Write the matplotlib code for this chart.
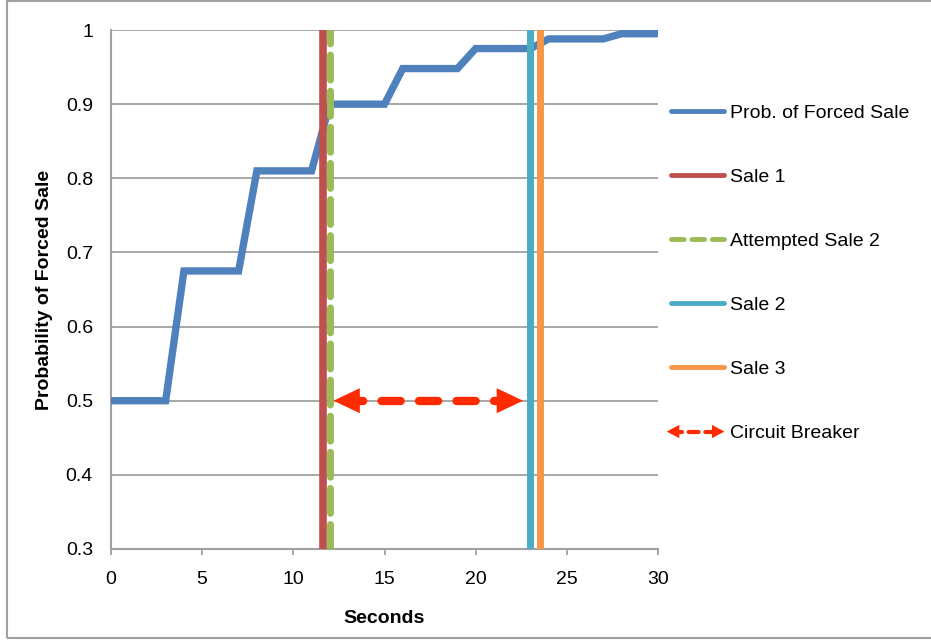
import matplotlib.pyplot as plt
from matplotlib.patches import FancyArrowPatch, Rectangle
from matplotlib.lines import Line2D
from matplotlib.legend_handler import HandlerBase

plt.rcParams['font.family'] = ['Liberation Sans', 'DejaVu Sans']

# probability curve (seconds, prob)
seconds = [0, 3, 4, 7, 8, 11, 12, 15, 16, 19, 20, 23, 24, 27, 28, 30]
prob = [0.5, 0.5, 0.675, 0.675, 0.81, 0.81, 0.9, 0.9, 0.948, 0.948,
        0.975, 0.975, 0.988, 0.988, 0.995, 0.995]

# event times
sale1_t = 11.6
attempt2_t = 12
sale2_t = 23
sale3_t = 23.5

# circuit breaker window
breaker_start = 12.2
breaker_end = 22.6
breaker_level = 0.5

x_ticks = [0, 5, 10, 15, 20, 25, 30]
y_ticks = [0.3, 0.4, 0.5, 0.6, 0.7, 0.8, 0.9, 1.0]
y_labels = ['0.3', '0.4', '0.5', '0.6', '0.7', '0.8', '0.9', '1']

BLUE = '#4f81bd'
RED = '#c0504d'
GREEN = '#9bbb59'
TEAL = '#4bacc6'
ORANGE = '#f79646'
ARROW = '#ff2a00'
GRAY = '#a0a0a0'


class HandlerArrow(HandlerBase):
    # dashed shaft with a solid head at each end
    def create_artists(self, legend, orig_handle, xdescent, ydescent,
                       width, height, fontsize, trans):
        y = height / 2 - ydescent
        x0, x1 = -xdescent - 3, width - xdescent
        shaft = Line2D([x0 + 4, x1 - 4], [y, y], color=ARROW, lw=3,
                       linestyle=(0, (2.4, 1.6)), dash_capstyle='round',
                       transform=trans)
        heads = FancyArrowPatch((x0, y), (x1, y),
                                arrowstyle='<|-|>,head_length=0.6,head_width=0.32',
                                mutation_scale=15, color=ARROW, lw=0,
                                shrinkA=0, shrinkB=0, transform=trans)
        return [shaft, heads]


fig = plt.figure(figsize=(9.31, 6.4), dpi=100)
ax = fig.add_axes([0.1192, 0.1422, 0.5876, 0.8109])

ax.plot(seconds, prob, color=BLUE, lw=5.3, solid_joinstyle='miter', zorder=3)
ax.axvline(sale1_t, color=RED, lw=5.5, zorder=4)
ax.axvline(attempt2_t, color=GREEN, lw=5, linestyle=(0, (3.6, 1.6)),
           dash_capstyle='round', zorder=5)
ax.axvline(sale2_t, color=TEAL, lw=5, zorder=4)
ax.axvline(sale3_t, color=ORANGE, lw=5, zorder=4)

# circuit breaker: dashed shaft plus filled arrow heads
ax.plot([breaker_start + 0.6, breaker_end - 0.6], [breaker_level, breaker_level],
        color=ARROW, lw=6, linestyle=(0, (2.3, 2.2)), dash_capstyle='round', zorder=6)
ax.add_patch(FancyArrowPatch((breaker_start, breaker_level), (breaker_end, breaker_level),
                             arrowstyle='<|-|>,head_length=0.95,head_width=0.45',
                             mutation_scale=20, color=ARROW, lw=0,
                             shrinkA=0, shrinkB=0, zorder=7))

ax.set_xlim(0, 30)
ax.set_ylim(0.3, 1.0)
ax.set_xticks(x_ticks)
ax.set_yticks(y_ticks)
ax.set_yticklabels(y_labels)
ax.tick_params(axis='x', direction='out', length=4, color=GRAY, width=1.3,
               labelsize=14, pad=12)
ax.tick_params(axis='y', length=0, labelsize=14, pad=13)
ax.yaxis.grid(True, color=GRAY, lw=1.3)
ax.set_axisbelow(True)
for side in ['top', 'right']:
    ax.spines[side].set_visible(False)
for side in ['left', 'bottom']:
    ax.spines[side].set_color(GRAY)
    ax.spines[side].set_linewidth(1.5)

ax.set_xlabel('Seconds', fontsize=14, fontweight='bold', labelpad=16)
ax.set_ylabel('Probability of Forced Sale', fontsize=14, fontweight='bold', labelpad=9)

handles = [
    Line2D([], [], color=BLUE, lw=3.5, solid_capstyle='round'),
    Line2D([], [], color=RED, lw=3.5, solid_capstyle='round'),
    Line2D([], [], color=GREEN, lw=3.5, linestyle=(0, (2.6, 1.6)), dash_capstyle='round'),
    Line2D([], [], color=TEAL, lw=3.5, solid_capstyle='round'),
    Line2D([], [], color=ORANGE, lw=3.5, solid_capstyle='round'),
    FancyArrowPatch((0, 0), (1, 0)),
]
labels = ['Prob. of Forced Sale', 'Sale 1', 'Attempted Sale 2', 'Sale 2', 'Sale 3',
          'Circuit Breaker']
fig.legend(handles, labels, loc='upper left', bbox_to_anchor=(0.7207, 0.837),
           frameon=False, fontsize=14, handlelength=2.75, handletextpad=0.28,
           labelspacing=2.39, borderpad=0, borderaxespad=0,
           handler_map={FancyArrowPatch: HandlerArrow()})

fig.add_artist(Rectangle((0.0075, 0.003), 1.0, 0.995, transform=fig.transFigure,
                         fill=False, edgecolor=GRAY, lw=1.5))

fig.savefig('out.png', dpi=100)
